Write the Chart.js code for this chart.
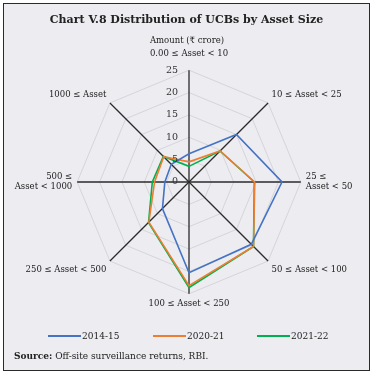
<!DOCTYPE html>
<html>
<head>
<meta charset="utf-8">
<script src="https://cdn.jsdelivr.net/npm/chart.js@4/dist/chart.umd.min.js"></script>
<style>
  html, body { margin: 0; padding: 0; background: #fff; }
  #frame {
    position: absolute; left: 3px; top: 3px; width: 365px; height: 366px;
    border: 1px solid #2a2a2a; background: #ececf1; overflow: hidden;
    font-family: 'DejaVu Serif', 'Liberation Serif', serif; color: #222;
  }
  #title { position: absolute; left: 0; right: 0; top: 9px; text-align: center; font-weight: bold; font-size: 11px; }
  #unit { position: absolute; left: 0; width: 366px; top: 31px; text-align: center; font-size: 8.5px; }
  #chartBox { position: absolute; left: -3px; top: -3px; width: 373px; height: 375px; }
  #legend { position: absolute; top: 327px; left: 0; width: 365px; height: 14px; font-size: 9px; }
  .lg { position: absolute; top: 0; display: flex; align-items: center; }
  .lg i { display: inline-block; width: 33px; height: 2px; margin-right: 1px; }
  #source { position: absolute; left: 10px; top: 347px; font-size: 9px; }
</style>
</head>
<body>
<div id="frame">
  <div id="chartBox"><canvas id="c" width="373" height="375"></canvas></div>
  <div id="title">Chart V.8 Distribution of UCBs by Asset Size</div>
  <div id="unit">Amount (₹ crore)</div>
  <div id="legend"></div>
  <div id="source"><b>Source:</b> Off-site surveillance returns, RBI.</div>
</div>
<script>
// categories (asset size buckets, ₹ crore)
const categories = [
  '0.00 ≤ Asset < 10',
  '10 ≤ Asset < 25',
  ['25 ≤', 'Asset < 50'],
  '50 ≤ Asset < 100',
  '100 ≤ Asset < 250',
  '250 ≤ Asset < 500',
  ['500 ≤', 'Asset < 1000'],
  '1000 ≤ Asset'
];
const seriesNames = ['2014-15', '2020-21', '2021-22'];
const values2014 = [6.3, 15.0, 20.8, 19.7, 20.3, 8.4, 5.4, 5.6];
const values2020 = [4.5, 9.8, 14.7, 20.4, 23.2, 12.7, 7.7, 8.0];
const values2021 = [3.5, 9.8, 14.6, 20.4, 23.6, 12.8, 8.2, 8.1];
const tickValues = [0, 5, 10, 15, 20, 25];

const COLORS = ['#4472c4', '#ed7d31', '#00b050'];
const FONT = "'DejaVu Serif', 'Liberation Serif', serif";

// legend built as html
const legendEl = document.getElementById('legend');
const legendX = [44, 149, 253];
seriesNames.forEach((n, i) => {
  const d = document.createElement('div');
  d.className = 'lg';
  d.style.left = legendX[i] + 'px';
  d.innerHTML = `<i style="background:${COLORS[i]}"></i><span>${n}</span>`;
  legendEl.appendChild(d);
});

// tick labels drawn just left of the vertical axis
const tickLabelPlugin = {
  id: 'tickLabels',
  afterDraw(chart) {
    const s = chart.scales.r, ctx = chart.ctx;
    ctx.save();
    ctx.font = '9.5px ' + FONT;
    ctx.fillStyle = '#333';
    ctx.textAlign = 'right';
    ctx.textBaseline = 'middle';
    tickValues.forEach(v => {
      const y = s.yCenter - s.getDistanceFromCenterForValue(v);
      ctx.fillText(String(v), s.xCenter - 11, y);
    });
    ctx.restore();
  }
};

new Chart(document.getElementById('c'), {
  type: 'radar',
  data: {
    labels: categories,
    datasets: [values2014, values2020, values2021].map((vals, i) => ({
      label: seriesNames[i],
      data: vals,
      borderColor: COLORS[i],
      backgroundColor: 'transparent',
      borderWidth: 1.6,
      pointRadius: 0,
      fill: false,
    }))
  },
  options: {
    responsive: false,
    animation: false,
    layout: { padding: { top: 45, bottom: 63, left: 6, right: 12 } },
    plugins: { legend: { display: false }, tooltip: { enabled: false } },
    scales: {
      r: {
        min: 0, max: 25,
        ticks: { stepSize: 5, display: false },
        grid: { color: '#d4d4da', lineWidth: 1 },
        angleLines: { color: '#2b2b2b', lineWidth: 1.3 },
        pointLabels: {
          font: { family: FONT, size: 8.5 }, color: '#222',
          padding: ctx => (ctx.index === 0 ? 11 : 5)
        }
      }
    }
  },
  plugins: [tickLabelPlugin]
});
</script>
</body>
</html>
